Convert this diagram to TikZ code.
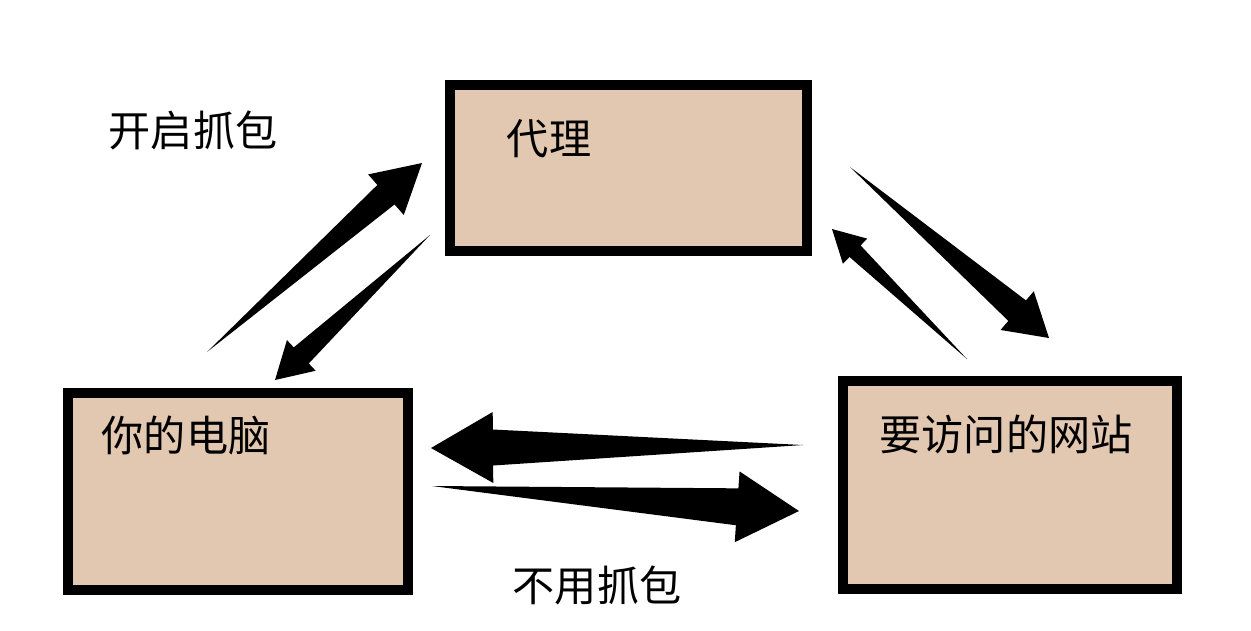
\documentclass[tikz,border=0pt]{standalone}
\usepackage{fontspec}
\setmainfont{Noto Sans CJK SC}
\usetikzlibrary{calc}
\definecolor{boxfill}{RGB}{226,200,176}

% tapered arrow: tail, tip, head length, head half width, shaft half width (all px)
\newcommand{\fatarrow}[5]{%
  \path ($(#2)!#3*0.02cm!(#1)$) coordinate (hb);
  \fill (#1) -- ($(hb)!#5*0.02cm!90:(#2)$) -- ($(hb)!#4*0.02cm!90:(#2)$) -- (#2)
    -- ($(hb)!#4*0.02cm!-90:(#2)$) -- ($(hb)!#5*0.02cm!-90:(#2)$) -- cycle;
}

\begin{document}
\begin{tikzpicture}[
    x=0.02cm, y=-0.02cm,
    box/.style={rectangle, draw=black, line width=0.2cm, fill=boxfill, inner sep=0pt},
    lbl/.style={inner sep=0pt, font=\fontsize{24}{28}\selectfont}
]
\useasboundingbox (0,0) rectangle (1251,630);

% Boxes
\node[box, minimum width=7.14cm, minimum height=3.32cm] (proxy) at (628.5,168) {};
\node[box, minimum width=6.80cm, minimum height=3.94cm] (pc) at (238,491.5) {};
\node[box, minimum width=6.68cm, minimum height=4.16cm] (site) at (1010,485) {};

% Labels
\node[lbl] (proxytxt) at (549,139) {代理};
\node[lbl] (pctxt) at (186,435) {你的电脑};
\node[lbl] (sitetxt) at (1006,434) {要访问的网站};
\node[lbl] (captxt) at (193,130) {开启抓包};
\node[lbl] (directtxt) at (597,585) {不用抓包};

% Arrow ends
\coordinate (pcout) at (207,352);
\coordinate (proxyin) at (422,163);
\coordinate (proxyout) at (430,235);
\coordinate (pcin) at (275,380);
\coordinate (proxysend) at (850,167);
\coordinate (sitein) at (1049,338);
\coordinate (siteout) at (967,359);
\coordinate (proxyback) at (832,229);
\coordinate (siteleft) at (803,445);
\coordinate (pcright) at (431,448);
\coordinate (pcsend) at (432,486);
\coordinate (siteget) at (799,511);

% Arrows
\fatarrow{pcout}{proxyin}{48}{27}{13}
\fatarrow{proxyout}{pcin}{36}{21}{11}
\fatarrow{proxysend}{sitein}{42}{25.5}{13.5}
\fatarrow{siteout}{proxyback}{32}{17.5}{8}
\fatarrow{siteleft}{pcright}{62}{35.5}{18}
\fatarrow{pcsend}{siteget}{62}{35.5}{18.5}

\end{tikzpicture}
\end{document}
